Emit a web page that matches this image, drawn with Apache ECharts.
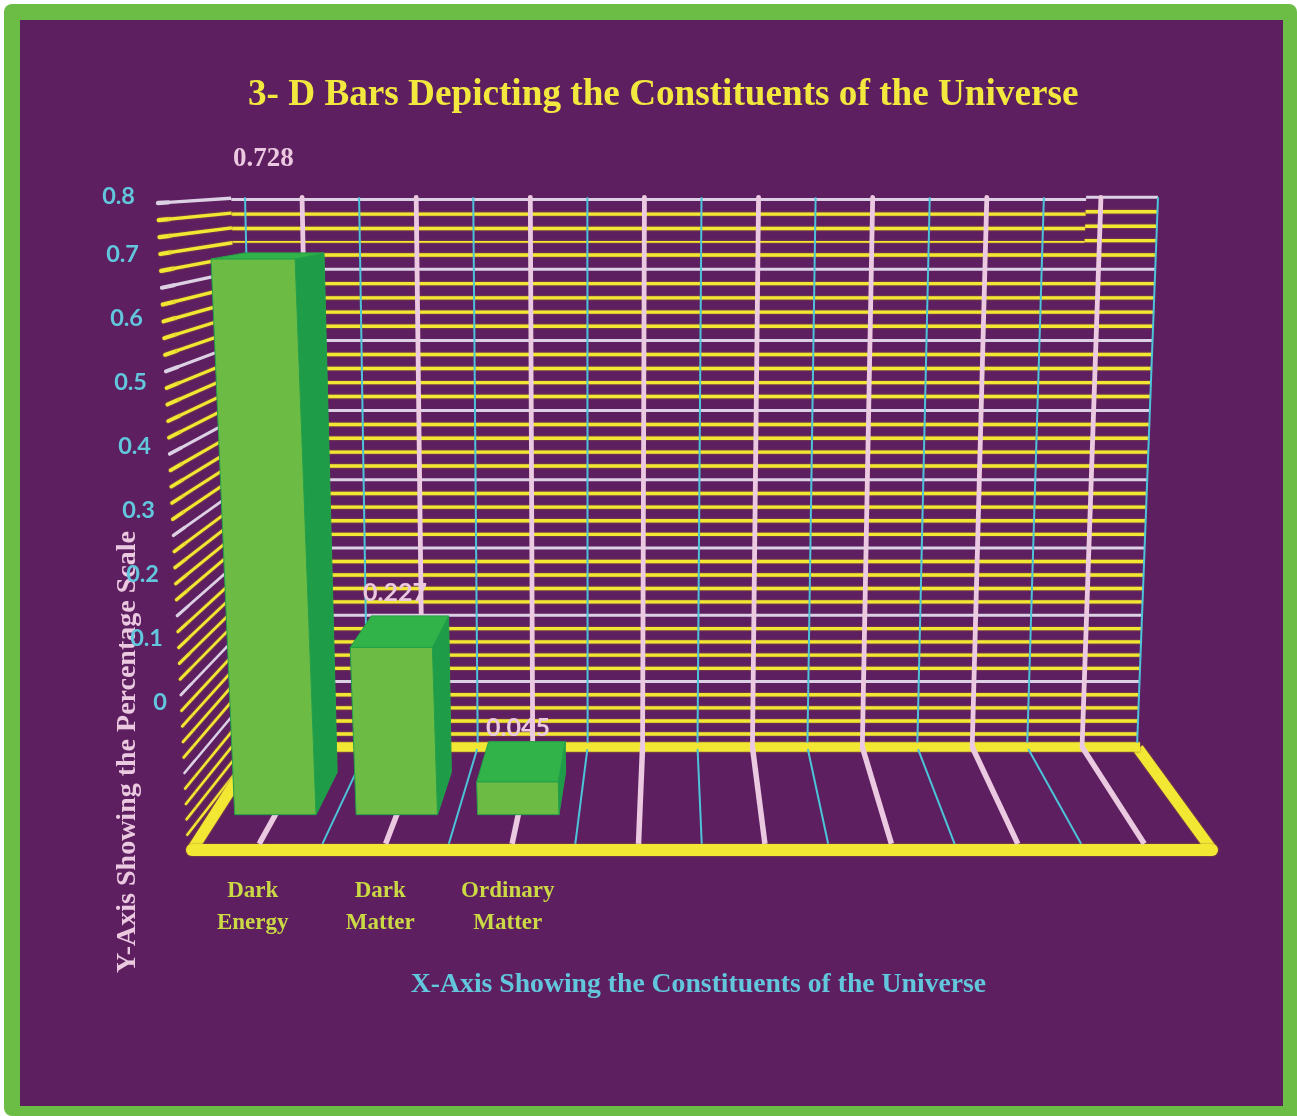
<!DOCTYPE html>
<html>
<head>
<meta charset="utf-8">
<title>Constituents of the Universe</title>
<style>html,body{margin:0;padding:0;background:#fff}#chart{width:1297px;height:1116px}</style>
<script src="https://cdn.jsdelivr.net/npm/echarts@6/dist/echarts.min.js"></script>
</head>
<body>
<div id="chart"></div>
<script>
// Chart content
const categories = ['Dark\nEnergy', 'Dark\nMatter', 'Ordinary\nMatter', '', '', '', '', ''];
const barCategoryIndex = [0, 1, 2];
const barValues = [0.728, 0.227, 0.045];
const tickValues = [0, 0.1, 0.2, 0.3, 0.4, 0.5, 0.6, 0.7, 0.8];
const tickLabels = ['0', '0.1', '0.2', '0.3', '0.4', '0.5', '0.6', '0.7', '0.8'];
const chartTitle = '3- D Bars Depicting the Constituents of the Universe';
const xAxisTitle = 'X-Axis Showing the Constituents of the Universe';
const yAxisTitle = 'Y-Axis Showing the Percentage Scale';

// Axis scale
const valueMax = 0.8;
const valueStep = 0.1;
const wallStep = 0.02;

// Palette
const PURPLE = '#5D1F5F', FRAME_GREEN = '#6CBD45', YELLOW = '#F2E834', PINK = '#EBC9E1',
      CYAN = '#4CC3D9', PALE = '#DCD0E4', FACE = '#6CBB45', SIDE = '#1E9C48', TOP = '#31B34A',
      EDGE = '#23A049', LABEL_CYAN = '#62C6DC', CAT_GREEN = '#CBD944', TITLE_YELLOW = '#F3E93E',
      FRINGE = '#A8722E';

// Box of the 3-D scene: front plane (depth 0) and back wall (depth 1), each given
// by its lower-left, lower-right, upper-left and upper-right corner.
const FRONT = { bl: [192, 850], br: [1212, 850], tl: [158, 203], tr: [1214, 203] };
const BACK = { bl: [258, 747], br: [1137, 747], tl: [245, 197.3], tr: [1158, 197.3] };
const VERTICAL_EASE = 0.055;
const BAR_HALF = 0.335, BAR_DEPTH_FRONT = 0.343, BAR_DEPTH_BACK = 0.755;
const BAND_SHIFT = 2.3, BAND_U_START = -0.12, BAND_U_END = 7.37, BAND_FROM = 0.73;
const barLabelOffsets = [[-21, -94], [-15, -23], [-9, -14]];
const barLabelFonts = ['bold 27px "Liberation Serif"', 'bold 25px Lato', 'bold 25px Lato'];

const lerp = (a, b, t) => a + (b - a) * t;
const lerp2 = (p, q, t) => [lerp(p[0], q[0], t), lerp(p[1], q[1], t)];

// Maps a position (u in category cells, n = share of the value range, w = depth) to the screen.
function project(u, n, w) {
  const f = n - VERTICAL_EASE * n * (1 - n);
  const s = u / categories.length;
  const front = lerp2(lerp2(FRONT.bl, FRONT.br, s), lerp2(FRONT.tl, FRONT.tr, s), f);
  const back = lerp2(lerp2(BACK.bl, BACK.br, s), lerp2(BACK.tl, BACK.tr, s), f);
  return lerp2(front, back, w);
}

// Reads a category/value pair through the axes and returns scene coordinates.
function toScene(params, api, cat, du, value) {
  const sys = params.coordSys;
  const cell = api.size([1, 0])[0];
  const pt = api.coord([cat, value]);
  return { u: (pt[0] + du * cell - sys.x) / cell, n: (sys.y + sys.height - pt[1]) / sys.height };
}

const line = (a, b, stroke, width, cap) => ({
  type: 'line',
  shape: { x1: a[0], y1: a[1], x2: b[0], y2: b[1] },
  style: {
    stroke, lineWidth: width, lineCap: cap || 'butt', fill: null,
    shadowColor: stroke === YELLOW ? FRINGE : 'transparent',
    shadowBlur: stroke === YELLOW ? 2 : 0
  }
});
const poly = (points, fill) => ({
  type: 'polygon',
  shape: { points },
  style: { fill, stroke: EDGE, lineWidth: 1, lineJoin: 'round' }
});

// Levels of the ruled walls, one line per wallStep
const wallLevels = [];
for (let i = 0; i <= Math.round(valueMax / wallStep); i++) wallLevels.push(+(i * wallStep).toFixed(2));
const isMajor = v => Math.abs(v / valueStep - Math.round(v / valueStep)) < 1e-6;
const wallData = wallLevels.filter(v => v > 0).map(v => [0, v]);
const pinkData = categories.map((c, i) => [i, 0]);
const cyanData = categories.concat('').map((c, i) => [i, 0]);

function renderBackWall(params, api) {
  const v = api.value(1);
  const { n } = toScene(params, api, 0, 0, v);
  const major = isMajor(v);
  const color = major ? PALE : YELLOW;
  const w = major ? 3 : 3.4;
  const L = categories.length;
  if (v < BAND_FROM) {
    return line(project(0, n, 1), project(L, n, 1), color, w);
  }
  // The top band of the wall sits a touch lower than the rest of the ruling.
  const a = project(BAND_U_START, n, 1), b = project(BAND_U_END, n, 1);
  const thin = v < 0.75;
  return {
    type: 'group',
    children: [
      line([a[0], a[1] + (thin ? 1.3 : BAND_SHIFT)], [b[0], b[1] + (thin ? 1.3 : BAND_SHIFT)], color, thin ? 1.8 : w),
      line(b, project(L, n, 1), color, w)
    ]
  };
}

function renderLeftWall(params, api) {
  const v = api.value(1);
  const { n } = toScene(params, api, 0, 0, v);
  const major = isMajor(v);
  const color = major ? PALE : YELLOW;
  const end = v >= BAND_FROM ? 0.84 : 1;
  const start = project(0, n, 0);
  start[0] -= 4 * (1 - n);
  const stop = project(0, n, end);
  stop[1] += 12 * Math.pow(1 - n, 6);
  const mid = lerp2(start, stop, 0.14);
  const body = lerp(2.4, 3.4, n);
  return {
    type: 'group',
    children: [
      line(start, mid, color, body + lerp(0, 1, n), 'round'),
      line(mid, stop, color, body)
    ]
  };
}

function renderFrame(params, api) {
  const L = categories.length;
  const fl = project(0, 0, 0), fr = project(L, 0, 0), bl = project(0, 0, 1), br = project(L, 0, 1);
  const sideEndL = project(0, 0, 0.985), sideEndR = project(L, 0, 0.985);
  return {
    type: 'group',
    children: [
      line(fl, sideEndL, YELLOW, 11),
      line(fr, sideEndR, YELLOW, 11),
      line([bl[0] - 3, bl[1]], [br[0] + 3, br[1]], YELLOW, 9.5),
      line(fl, fr, YELLOW, 12, 'round')
    ]
  };
}

// Cell boundaries: thin cyan rule up the wall and across the floor
function renderCyan(params, api) {
  const i = api.value(0);
  const L = categories.length;
  const { n } = toScene(params, api, 0, 0, valueMax);
  const u = i;
  return {
    type: 'group',
    children: [
      line(project(u, 0.008, 1), project(u, n, 1), CYAN, 2),
      line(project(u, 0, 0.06), project(u, 0, 0.98), CYAN, 2)
    ].filter((c, k) => k === 0 || (i > 0 && i < L))
  };
}

// Cell centres: heavy pink rule up the wall and across the floor
function renderPink(params, api) {
  const i = api.value(0);
  const { u, n } = toScene(params, api, i, 0, valueMax);
  return {
    type: 'group',
    children: [
      line(project(u, 0, 0.06), project(u, 0, 1), PINK, 5.5),
      line(project(u, 0, 1), project(u, n, 1), PINK, 4.8, 'round')
    ]
  };
}

function renderBar(params, api) {
  const cat = api.value(0), val = api.value(1);
  const base = toScene(params, api, cat, 0, 0);
  const top = toScene(params, api, cat, 0, val);
  const ul = base.u - BAR_HALF, ur = base.u + BAR_HALF;
  const wf = BAR_DEPTH_FRONT, wb = BAR_DEPTH_BACK;
  const fbl = project(ul, 0, wf), fbr = project(ur, 0, wf);
  const ftl = project(ul, top.n, wf), ftr = project(ur, top.n, wf);
  const bbr = project(ur, 0, wb), btl = project(ul, top.n, wb), btr = project(ur, top.n, wb);
  return {
    type: 'group',
    children: [
      poly([fbr, bbr, btr, ftr], SIDE),
      poly([ftl, ftr, btr, btl], TOP),
      poly([fbl, fbr, ftr, ftl], FACE)
    ]
  };
}

function renderBarLabel(params, api) {
  const k = params.dataIndex;
  const cat = api.value(0), val = api.value(1);
  const top = toScene(params, api, cat, 0, val);
  const p = project(top.u, top.n, BAR_DEPTH_BACK);
  const off = barLabelOffsets[k];
  return {
    type: 'text',
    x: p[0] + off[0],
    y: p[1] + off[1],
    style: {
      text: String(val),
      fill: PINK,
      font: barLabelFonts[k],
      align: 'center',
      verticalAlign: 'middle'
    }
  };
}

// Value labels follow their own slanted rail to the left of the wall
function renderTick(params, api) {
  const k = params.dataIndex;
  const { n } = toScene(params, api, 0, 0, api.value(1));
  const lift = n > 0.99 ? 6 : 0;
  return {
    type: 'text',
    x: lerp(167, 135, n),
    y: lerp(702, 190, n) + lift,
    style: {
      text: tickLabels[k],
      fill: LABEL_CYAN,
      font: 'bold 23.5px Lato',
      align: 'right',
      verticalAlign: 'middle'
    }
  };
}

const custom = (name, data, renderItem, z) => ({
  type: 'custom', name, data, renderItem, z, silent: true,
  encode: { x: 0, y: 1 }, clip: false, animation: false
});

const chart = echarts.init(document.getElementById('chart'), null, { renderer: 'canvas' });
chart.setOption({
  animation: false,
  backgroundColor: '#ffffff',
  title: {
    text: chartTitle,
    left: 243,
    top: 72,
    textStyle: { color: TITLE_YELLOW, fontFamily: 'Liberation Serif', fontWeight: 'bold', fontSize: 37.2 }
  },
  grid: { left: FRONT.bl[0], top: FRONT.tl[1], width: FRONT.br[0] - FRONT.bl[0], height: FRONT.bl[1] - FRONT.tl[1] },
  xAxis: {
    type: 'category',
    data: categories,
    axisLine: { show: false },
    axisTick: { show: false },
    axisLabel: {
      interval: 0,
      margin: 25,
      color: CAT_GREEN,
      fontFamily: 'Liberation Serif',
      fontWeight: 'bold',
      fontSize: 23,
      lineHeight: 32,
      padding: [0, 6, 0, 0]
    },
    name: xAxisTitle,
    nameLocation: 'middle',
    nameGap: 121,
    nameTextStyle: {
      color: LABEL_CYAN,
      fontFamily: 'Liberation Serif',
      fontWeight: 'bold',
      fontSize: 27.7,
      padding: [0, 7, 0, 0]
    }
  },
  yAxis: { type: 'value', min: 0, max: valueMax, interval: valueStep, show: false },
  graphic: [
    { type: 'rect', z: 0, shape: { x: 4, y: 4, width: 1293, height: 1112, r: [8, 8, 0, 8] }, style: { fill: FRAME_GREEN } },
    { type: 'rect', z: 0, shape: { x: 20, y: 20, width: 1263, height: 1086 }, style: { fill: PURPLE } },
    {
      type: 'text', z: 1, x: 128, y: 752, rotation: Math.PI / 2,
      style: {
        text: yAxisTitle, fill: PINK, font: 'bold 28px "Liberation Serif"',
        align: 'center', verticalAlign: 'middle'
      }
    }
  ],
  series: [
    custom('Back wall', wallData, renderBackWall, 2),
    custom('Left wall', wallData, renderLeftWall, 2),
    custom('Frame', [[0, 0]], renderFrame, 3),
    custom('Cell edges', cyanData, renderCyan, 4),
    custom('Cell centres', pinkData, renderPink, 5),
    custom('Bars', barCategoryIndex.map((c, i) => [c, barValues[i]]), renderBar, 6),
    custom('Value labels', tickValues.map(v => [0, v]), renderTick, 7),
    custom('Bar labels', barCategoryIndex.map((c, i) => [c, barValues[i]]), renderBarLabel, 8)
  ]
});
</script>
</body>
</html>
